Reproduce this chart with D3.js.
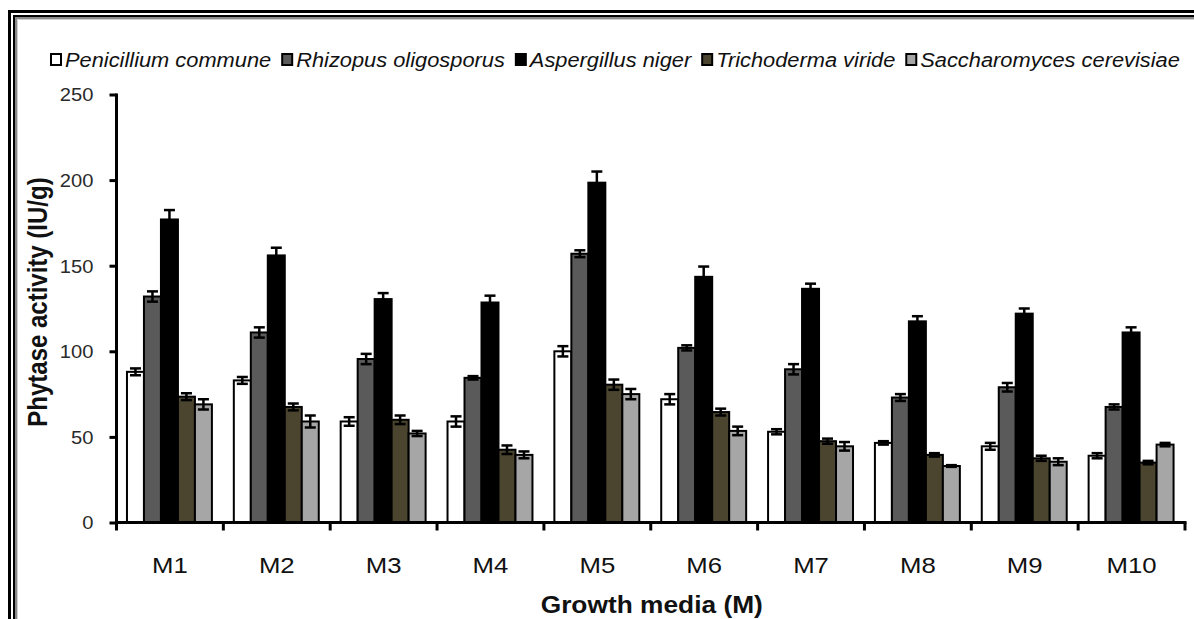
<!DOCTYPE html>
<html>
<head>
<meta charset="utf-8">
<script src="https://cdn.jsdelivr.net/npm/d3@7/dist/d3.min.js"></script>
<style>
  html, body { margin: 0; padding: 0; background: #fff; }
  svg { display: block; font-family: "Liberation Sans", Arial, sans-serif; }
</style>
</head>
<body>
<svg id="chart" width="1194" height="619"></svg>
<script>
// Growth media and fungal strains
const media = ["M1", "M2", "M3", "M4", "M5", "M6", "M7", "M8", "M9", "M10"];
const strains = ["Penicillium commune", "Rhizopus oligosporus", "Aspergillus niger", "Trichoderma viride", "Saccharomyces cerevisiae"];

// Phytase activity (IU/g) per medium
const penicillium   = [88, 83, 59, 59, 100, 72, 53, 46.5, 44.5, 39];
const rhizopus      = [132, 111, 95.5, 84.5, 157, 102, 89.5, 73, 79, 67.5];
const aspergillus   = [177, 156, 130.5, 128.5, 198.5, 143.5, 136.5, 117.5, 122, 111];
const trichoderma   = [73.5, 67.5, 60, 42.5, 80.5, 64.5, 47.5, 39.5, 37.5, 35];
const saccharomyces = [69, 59, 52, 39.5, 75, 53.5, 44.5, 33, 35.5, 45.5];

// Standard deviations
const penicilliumErr   = [2, 2, 2.5, 3, 3, 3, 1.5, 1, 2, 1.5];
const rhizopusErr      = [3, 3, 3, 1, 2, 1.5, 3, 2, 2.5, 1.5];
const aspergillusErr   = [5.5, 4.5, 3.5, 4, 6.5, 6, 3, 3, 3, 3];
const trichodermaErr   = [2, 2, 2.5, 2.5, 3, 2, 1.5, 1, 1.5, 1];
const saccharomycesErr = [3, 3.5, 1.5, 2, 3, 2.5, 2.5, 0.5, 2, 1];

const yTicks = [0, 50, 100, 150, 200, 250];

const seriesValues = [penicillium, rhizopus, aspergillus, trichoderma, saccharomyces];
const seriesErrors = [penicilliumErr, rhizopusErr, aspergillusErr, trichodermaErr, saccharomycesErr];
const colors = ["#ffffff", "#5a5a5a", "#000000", "#4b452f", "#a6a6a6"];

const svg = d3.select("#chart");
const SX = 1.12; // horizontal glyph stretch

// outer frame (double rule with soft inner shade)
const frame = svg.append("g").attr("fill", "none");
frame.append("path").attr("d", "M9.5,640 V11.5 H1220").attr("stroke", "#000").attr("stroke-width", 3);
frame.append("path").attr("d", "M14,640 V16 H1220").attr("stroke", "#000").attr("stroke-width", 2);
frame.append("path").attr("d", "M16,640 V18 H1220").attr("stroke", "#8a8a8a").attr("stroke-width", 2);
frame.append("path").attr("d", "M17.5,640 V19.5 H1220").attr("stroke", "#cfcfcf").attr("stroke-width", 1);

const plot = { left: 116.5, right: 1185, top: 94.5, bottom: 522.5 };

const x0 = d3.scaleBand().domain(media).range([plot.left, plot.right]).padding(0);
const bw = x0.bandwidth();
const x1 = d3.scaleBand().domain(d3.range(strains.length))
  .range([bw * 0.098, bw * 0.893]).padding(0);
const y = d3.scaleLinear().domain([0, 250]).range([plot.bottom, plot.top]);

// bars
const groups = svg.append("g").selectAll("g")
  .data(media).join("g")
  .attr("transform", d => `translate(${x0(d)},0)`);

groups.each(function (m, i) {
  const g = d3.select(this);
  seriesValues.forEach((vals, s) => {
    g.append("rect")
      .attr("x", x1(s))
      .attr("y", y(vals[i]))
      .attr("width", x1.bandwidth())
      .attr("height", y(0) - y(vals[i]))
      .attr("fill", colors[s])
      .attr("stroke", "#000")
      .attr("stroke-width", 2);
  });
  // error bars
  seriesValues.forEach((vals, s) => {
    const cx = x1(s) + x1.bandwidth() / 2;
    const hi = y(vals[i] + seriesErrors[s][i]);
    const lo = y(vals[i] - seriesErrors[s][i]);
    const cap = 5.5;
    const e = g.append("g").attr("stroke", "#000").attr("stroke-width", 2.5);
    e.append("line").attr("x1", cx).attr("x2", cx).attr("y1", hi).attr("y2", lo);
    e.append("line").attr("x1", cx - cap).attr("x2", cx + cap).attr("y1", hi).attr("y2", hi);
    e.append("line").attr("x1", cx - cap).attr("x2", cx + cap).attr("y1", lo).attr("y2", lo);
  });
});

// y axis
const yAxis = svg.append("g")
  .attr("transform", `translate(${plot.left},0)`)
  .call(d3.axisLeft(y).tickValues(yTicks).tickSize(7).tickSizeOuter(0));
yAxis.select(".domain").attr("stroke", "#000").attr("stroke-width", 3)
  .attr("d", `M0,${plot.top - 1}V${plot.bottom + 1.5}`);
yAxis.selectAll(".tick line").attr("stroke", "#000").attr("stroke-width", 3);
yAxis.selectAll(".tick text")
  .attr("x", 0).attr("dy", "0.36em")
  .attr("transform", `translate(-23,0) scale(${SX},1)`)
  .attr("text-anchor", "end")
  .attr("fill", "#2a2a2a")
  .style("font-size", "18px")
  .style("font-family", "Liberation Sans, Arial, sans-serif");

// x axis
const xAxisG = svg.append("g").attr("transform", `translate(0,${plot.bottom})`);
xAxisG.append("line")
  .attr("x1", plot.left - 1.5).attr("x2", plot.right + 1.5)
  .attr("stroke", "#000").attr("stroke-width", 3);
const boundaries = media.map(m => x0(m)).concat([plot.right]);
xAxisG.selectAll("line.tk").data(boundaries).join("line")
  .attr("class", "tk")
  .attr("x1", d => d).attr("x2", d => d)
  .attr("y1", 0).attr("y2", 8)
  .attr("stroke", "#000").attr("stroke-width", 3);
svg.append("g").selectAll("text").data(media).join("text")
  .attr("transform", d => `translate(${x0(d) + bw / 2},573) scale(${SX},1)`)
  .attr("text-anchor", "middle")
  .attr("fill", "#111")
  .style("font-size", "23px")
  .text(d => d);

// axis titles
svg.append("text")
  .attr("transform", `translate(${(plot.left + plot.right) / 2 + 1},613) scale(${SX},1)`)
  .attr("text-anchor", "middle")
  .attr("font-weight", "bold")
  .attr("fill", "#111")
  .style("font-size", "23.5px")
  .text("Growth media (M)");
svg.append("text")
  .attr("transform", `translate(47,302) scale(${SX},1) rotate(-90)`)
  .attr("text-anchor", "middle")
  .attr("font-weight", "bold")
  .attr("fill", "#111")
  .style("font-size", "24px")
  .text("Phytase activity (IU/g)");

// legend
const legend = svg.append("g").attr("transform", "translate(50,0)");
let lx = 0;
strains.forEach((name, s) => {
  const item = legend.append("g").attr("transform", `translate(${lx},0)`);
  item.append("rect")
    .attr("x", 1).attr("y", 54)
    .attr("width", 10).attr("height", 11)
    .attr("fill", colors[s]).attr("stroke", "#000").attr("stroke-width", 2);
  const t = item.append("text")
    .attr("transform", `translate(15,67) scale(${SX},1)`)
    .attr("font-style", "italic")
    .attr("fill", "#111")
    .style("font-size", "19.5px")
    .text(name);
  lx += 15 + t.node().getComputedTextLength() * SX + 10;
});
</script>
</body>
</html>
